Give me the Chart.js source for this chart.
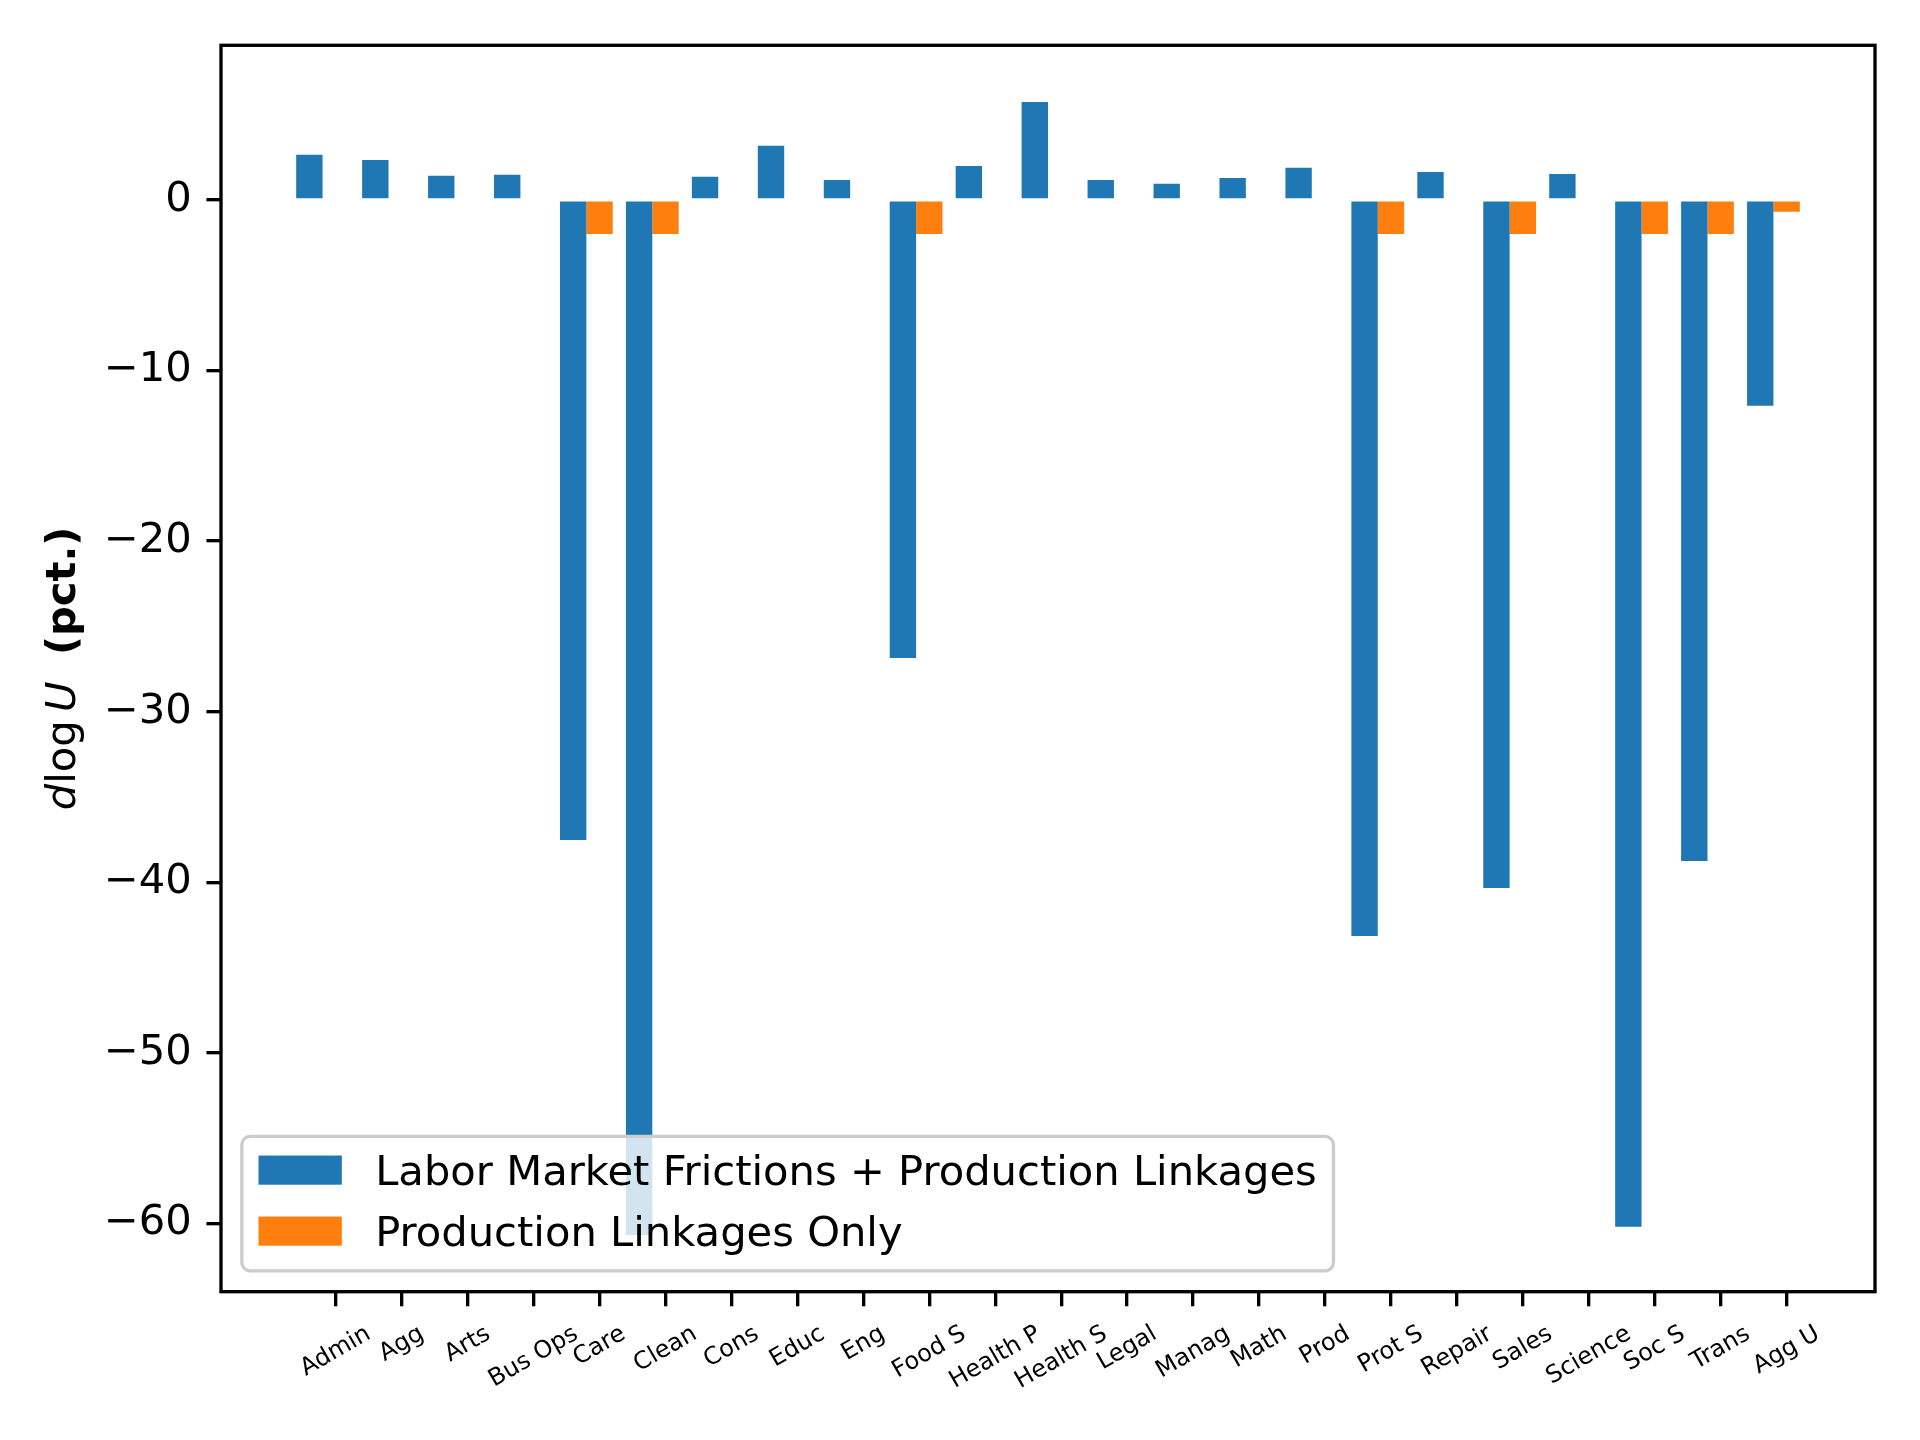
<!DOCTYPE html>
<html>
<head>
<meta charset="utf-8">
<title>d log U by occupation</title>
<script src="https://cdn.jsdelivr.net/npm/chart.js@4.4.1/dist/chart.umd.min.js"></script>
<style>
  html, body { margin: 0; padding: 0; background: #fff; }
  #wrap { width: 1920px; height: 1440px; }
</style>
</head>
<body>
<div id="wrap"><canvas id="grafico" width="1920" height="1440"></canvas></div>
<script>
// ---------------------------------------------------   dados   ---------------------------------------------------//
const categories = ['Admin', 'Agg', 'Arts', 'Bus Ops', 'Care', 'Clean', 'Cons', 'Educ', 'Eng', 'Food S',
    'Health P', 'Health S', 'Legal', 'Manag', 'Math', 'Prod', 'Prot S', 'Repair', 'Sales', 'Science',
    'Soc S', 'Trans', 'Agg U'];
const frictionsLinkages = [2.64, 2.34, 1.41, 1.47, -37.51, -60.67, 1.35, 3.17, 1.17, -26.85,
    1.99, 5.74, 1.17, 0.94, 1.29, 1.88, -43.14, 1.64, -40.33, 1.52,
    -60.18, -38.75, -12.07];
const linkagesOnly = [0, 0, 0, 0, -2.0, -2.0, 0, 0, 0, -2.0,
    0, 0, 0, 0, 0, 0, -2.0, 0, -2.0, 0,
    -2.0, -2.0, -0.70];
const seriesLabels = ['Labor Market Frictions + Production Linkages', 'Production Linkages Only'];
const yTicks = [0, -10, -20, -30, -40, -50, -60];

// -------------------------------------------------   estilo   ----------------------------------------------------//
const PT = 300 / 72;              // figure at 300 dpi
const FS = 10 * PT;               // 10pt text
const XFS = 24;                   // small rotated category labels
const LW = 0.8 * PT;              // spine / tick width
const TICK = 3.5 * PT;            // tick length
const PAD = 3.5 * PT;             // tick label pad
const BAR_W = 0.4;
const BLUE = '#1f77b4';
const ORANGE = '#ff7f0e';

// matplotlib-like 5% margins
const xLo = -BAR_W - BAR_W / 2, xHi = (categories.length - 1) + BAR_W / 2;
const xMin = xLo - 0.05 * (xHi - xLo), xMax = xHi + 0.05 * (xHi - xLo);
const allVals = frictionsLinkages.concat(linkagesOnly, [0]);
const yLo = Math.min(...allVals), yHi = Math.max(...allVals);
const yMin = yLo - 0.05 * (yHi - yLo), yMax = yHi + 0.05 * (yHi - yLo);

const minus = v => (v < 0 ? '\u2212' + Math.abs(v) : String(v));

// frame, rotated category labels, y label and legend
const extras = {
    id: 'extras',
    afterDraw(chart) {
        const { ctx, chartArea: a, scales: { x } } = chart;
        ctx.save();

        // moldura
        ctx.strokeStyle = '#000';
        ctx.lineWidth = LW;
        ctx.strokeRect(a.left, a.top, a.right - a.left, a.bottom - a.top);

        // category labels, rotated 30deg, centred under each tick
        ctx.fillStyle = '#000';
        ctx.font = `${XFS}px "DejaVu Sans"`;
        const ang = 30 * Math.PI / 180;
        categories.forEach((c, i) => {
            const px = x.getPixelForValue(i);
            const w = ctx.measureText(c).width;
            const h = XFS * 1.1;
            const boxH = w * Math.sin(ang) + h * Math.cos(ang);
            const top = a.bottom + TICK + PAD;
            ctx.save();
            ctx.translate(px, top + boxH / 2);
            ctx.rotate(-ang);
            ctx.textAlign = 'center';
            ctx.textBaseline = 'middle';
            ctx.fillText(c, 0, 0);
            ctx.restore();
        });

        // y label: d log U  (pct.)
        const normal = `${FS}px "DejaVu Sans"`;
        const segs = [
            { t: 'd', f: `italic ${normal}` },
            { t: 'log\u2009', f: normal },
            { t: 'U', f: `italic ${normal}` },
            { t: '  ', f: normal },
            { t: '(pct.)', f: `bold ${normal}` }
        ];
        let total = 0;
        segs.forEach(s => { ctx.font = s.f; s.w = ctx.measureText(s.t).width; total += s.w; });
        ctx.save();
        ctx.translate(a.left - 146, (a.top + a.bottom) / 2);
        ctx.rotate(-Math.PI / 2);
        ctx.textAlign = 'left';
        ctx.textBaseline = 'alphabetic';
        let cx = -total / 2;
        segs.forEach(s => { ctx.font = s.f; ctx.fillText(s.t, cx, 0); cx += s.w; });
        ctx.restore();

        // legenda (lower left, inside axes)
        ctx.font = normal;
        const textW = Math.max(...seriesLabels.map(l => ctx.measureText(l).width));
        const bw = 0.4 * FS + 2 * FS + 0.8 * FS + textW + 0.4 * FS;
        const bh = 3.228 * FS;
        const bx = a.left + 0.5 * FS;
        const by = a.bottom - 0.5 * FS - bh;
        const r = 0.2 * FS;
        ctx.beginPath();
        ctx.roundRect(bx, by, bw, bh, r);
        ctx.fillStyle = 'rgba(255,255,255,0.8)';
        ctx.fill();
        ctx.strokeStyle = '#cccccc';
        ctx.lineWidth = LW;
        ctx.stroke();
        const colors = [BLUE, ORANGE];
        seriesLabels.forEach((l, i) => {
            const cy = by + 0.81 * FS + i * 1.464 * FS;
            ctx.fillStyle = colors[i];
            ctx.fillRect(bx + 0.4 * FS, cy - 0.35 * FS, 2 * FS, 0.7 * FS);
            ctx.fillStyle = '#000';
            ctx.textAlign = 'left';
            ctx.textBaseline = 'alphabetic';
            ctx.fillText(l, bx + 3.2 * FS, cy + 0.35 * FS);
        });

        ctx.restore();
    }
};

const tickGrid = {
    display: true, drawOnChartArea: false, drawTicks: true, offset: false,
    tickLength: TICK, tickWidth: LW, lineWidth: LW, tickColor: '#000', color: '#000'
};

const canvas = document.getElementById('grafico');
const grafico = new Chart(canvas.getContext('2d'), {
    type: 'bar',
    data: {
        datasets: [{
            label: seriesLabels[0],
            data: categories.map((c, i) => ({ x: i - BAR_W, y: frictionsLinkages[i] })),
            backgroundColor: BLUE,
        }, {
            label: seriesLabels[1],
            data: categories.map((c, i) => ({ x: i, y: linkagesOnly[i] })),
            backgroundColor: ORANGE,
        }],
    },
    options: {
        responsive: false,
        animation: false,
        devicePixelRatio: 1,
        layout: { padding: { top: 45.3, right: 45, left: 0, bottom: 0 } },
        datasets: {
            bar: { grouped: false, categoryPercentage: 1, barPercentage: 1, borderWidth: 0, inflateAmount: 0 }
        },
        plugins: { legend: { display: false }, tooltip: { enabled: false } },
        scales: {
            x: {
                type: 'linear', min: xMin, max: xMax, bounds: 'data', offset: false,
                ticks: { display: false, stepSize: 1 },
                afterBuildTicks: s => { s.ticks = categories.map((c, i) => ({ value: i })); },
                afterFit: s => { s.height = 148.3; },
                grid: tickGrid,
                border: { display: false },
            },
            y: {
                type: 'linear', min: yMin, max: yMax, bounds: 'data',
                afterBuildTicks: s => { s.ticks = yTicks.map(v => ({ value: v })); },
                afterFit: s => { s.width = 221; },
                ticks: {
                    font: { family: 'DejaVu Sans', size: FS }, color: '#000', padding: PAD,
                    autoSkip: false, callback: v => minus(v),
                },
                grid: tickGrid,
                border: { display: false },
            },
        },
    },
    plugins: [extras],
});
</script>
</body>
</html>
